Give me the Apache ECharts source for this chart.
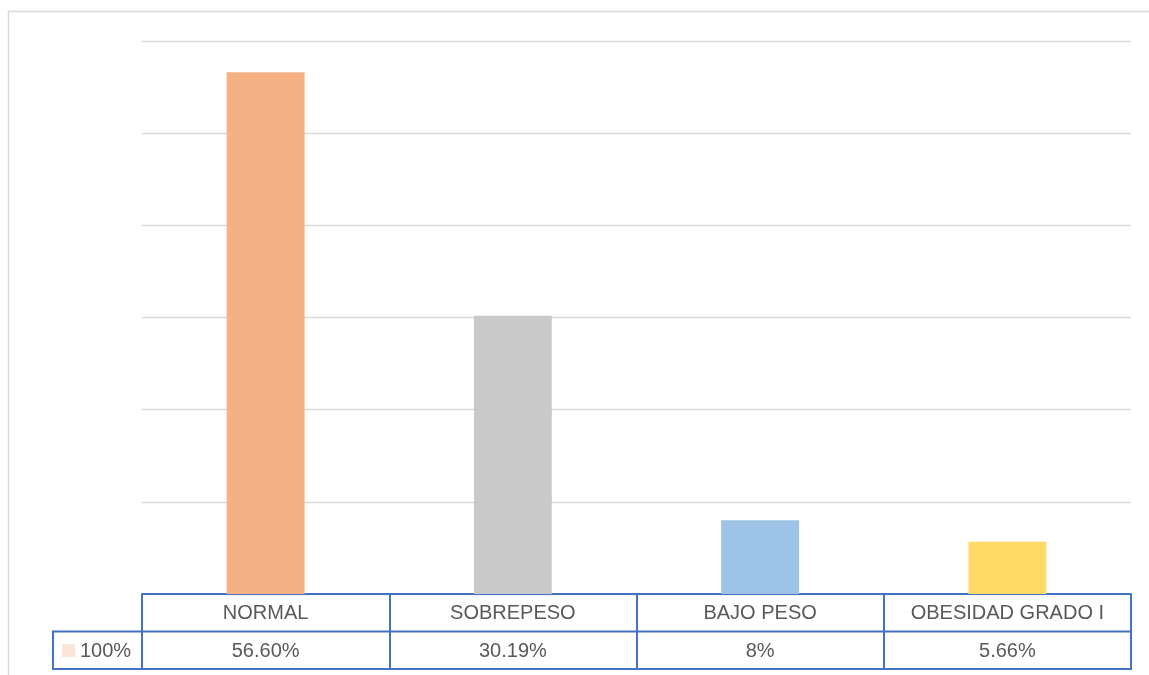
<!DOCTYPE html>
<html>
<head>
<meta charset="utf-8">
<script src="https://cdn.jsdelivr.net/npm/echarts@6/dist/echarts.min.js"></script>
<style>
  html, body { margin: 0; padding: 0; background: #fff; }
  #chart { width: 1149px; height: 675px; }
</style>
</head>
<body>
<div id="chart"></div>
<script>
// Distribución del estado nutricional (%)
const categories = ['NORMAL', 'SOBREPESO', 'BAJO PESO', 'OBESIDAD GRADO I'];
const values = [56.60, 30.19, 8, 5.66];
const valueLabels = ['56.60%', '30.19%', '8%', '5.66%'];
const seriesName = '100%';
const barColors = ['#F4B183', '#C9C9C9', '#9DC3E6', '#FFD966'];
const legendKeyColor = '#FBE5D6';

// layout of the plot and the data table below it
const W = 1149, H = 675;
const gridLeft = 142, gridRight = 1131, gridTop = 41, gridBottom = 594;
const rowH = 37.5;
const tableBlue = '#4472C4';
const textColor = '#595959';
const fontFamily = '"Liberation Sans", Arial, sans-serif';
const fontSize = 20;

const chart = echarts.init(document.getElementById('chart'), null, { renderer: 'canvas' });

const option = {
  animation: false,
  backgroundColor: '#fff',
  grid: {
    left: gridLeft,
    right: W - gridRight,
    top: gridTop,
    bottom: H - gridBottom,
    containLabel: false
  },
  xAxis: {
    type: 'category',
    data: categories,
    boundaryGap: true,
    axisLine: { show: true, lineStyle: { color: tableBlue, width: 2 } },
    axisTick: {
      show: true,
      interval: 0,
      length: rowH * 2,
      lineStyle: { color: tableBlue, width: 2 }
    },
    axisLabel: {
      interval: 0,
      margin: 1,
      formatter: function (v, i) {
        return '{a|' + v + '}\n{b|' + valueLabels[i] + '}';
      },
      rich: {
        a: { fontSize: fontSize, lineHeight: rowH, color: textColor, fontFamily: fontFamily },
        b: { fontSize: fontSize, lineHeight: rowH, color: textColor, fontFamily: fontFamily }
      }
    },
    splitLine: { show: false }
  },
  yAxis: {
    type: 'value',
    min: 0,
    max: 60,
    interval: 10,
    axisLine: { show: false },
    axisTick: { show: false },
    axisLabel: { show: false },
    splitLine: { show: true, lineStyle: { color: '#D9D9D9', width: 1.3 } }
  },
  series: [{
    name: seriesName,
    type: 'bar',
    barWidth: '31.5%',
    data: values.map(function (v, i) {
      return { value: v, itemStyle: { color: barColors[i] } };
    })
  }],
  graphic: [
    // chart area frame
    {
      type: 'rect', silent: true, z: -1,
      shape: { x: 8.5, y: 11.5, width: 1300, height: 800 },
      style: { fill: 'none', stroke: '#D9D9D9', lineWidth: 1.5 }
    },
    // table: horizontal rules
    {
      type: 'line', silent: true,
      shape: { x1: gridLeft, y1: gridBottom + rowH, x2: gridRight + 1, y2: gridBottom + rowH },
      style: { stroke: tableBlue, lineWidth: 2 }
    },
    {
      type: 'line', silent: true,
      shape: { x1: 53, y1: gridBottom + rowH * 2, x2: gridRight + 1, y2: gridBottom + rowH * 2 },
      style: { stroke: tableBlue, lineWidth: 2 }
    },
    // legend cell
    {
      type: 'line', silent: true,
      shape: { x1: 53, y1: gridBottom + rowH, x2: gridLeft, y2: gridBottom + rowH },
      style: { stroke: tableBlue, lineWidth: 2 }
    },
    {
      type: 'line', silent: true,
      shape: { x1: 53, y1: gridBottom + rowH - 1, x2: 53, y2: gridBottom + rowH * 2 + 1 },
      style: { stroke: tableBlue, lineWidth: 2 }
    },
    {
      type: 'rect', silent: true,
      shape: { x: 62, y: 644, width: 13, height: 13 },
      style: { fill: legendKeyColor }
    },
    {
      type: 'text', silent: true,
      x: 80, y: gridBottom + rowH * 1.5 + 1,
      style: {
        text: seriesName,
        fill: textColor,
        font: fontSize + 'px ' + fontFamily,
        verticalAlign: 'middle'
      }
    }
  ]
};

chart.setOption(option);
</script>
</body>
</html>
